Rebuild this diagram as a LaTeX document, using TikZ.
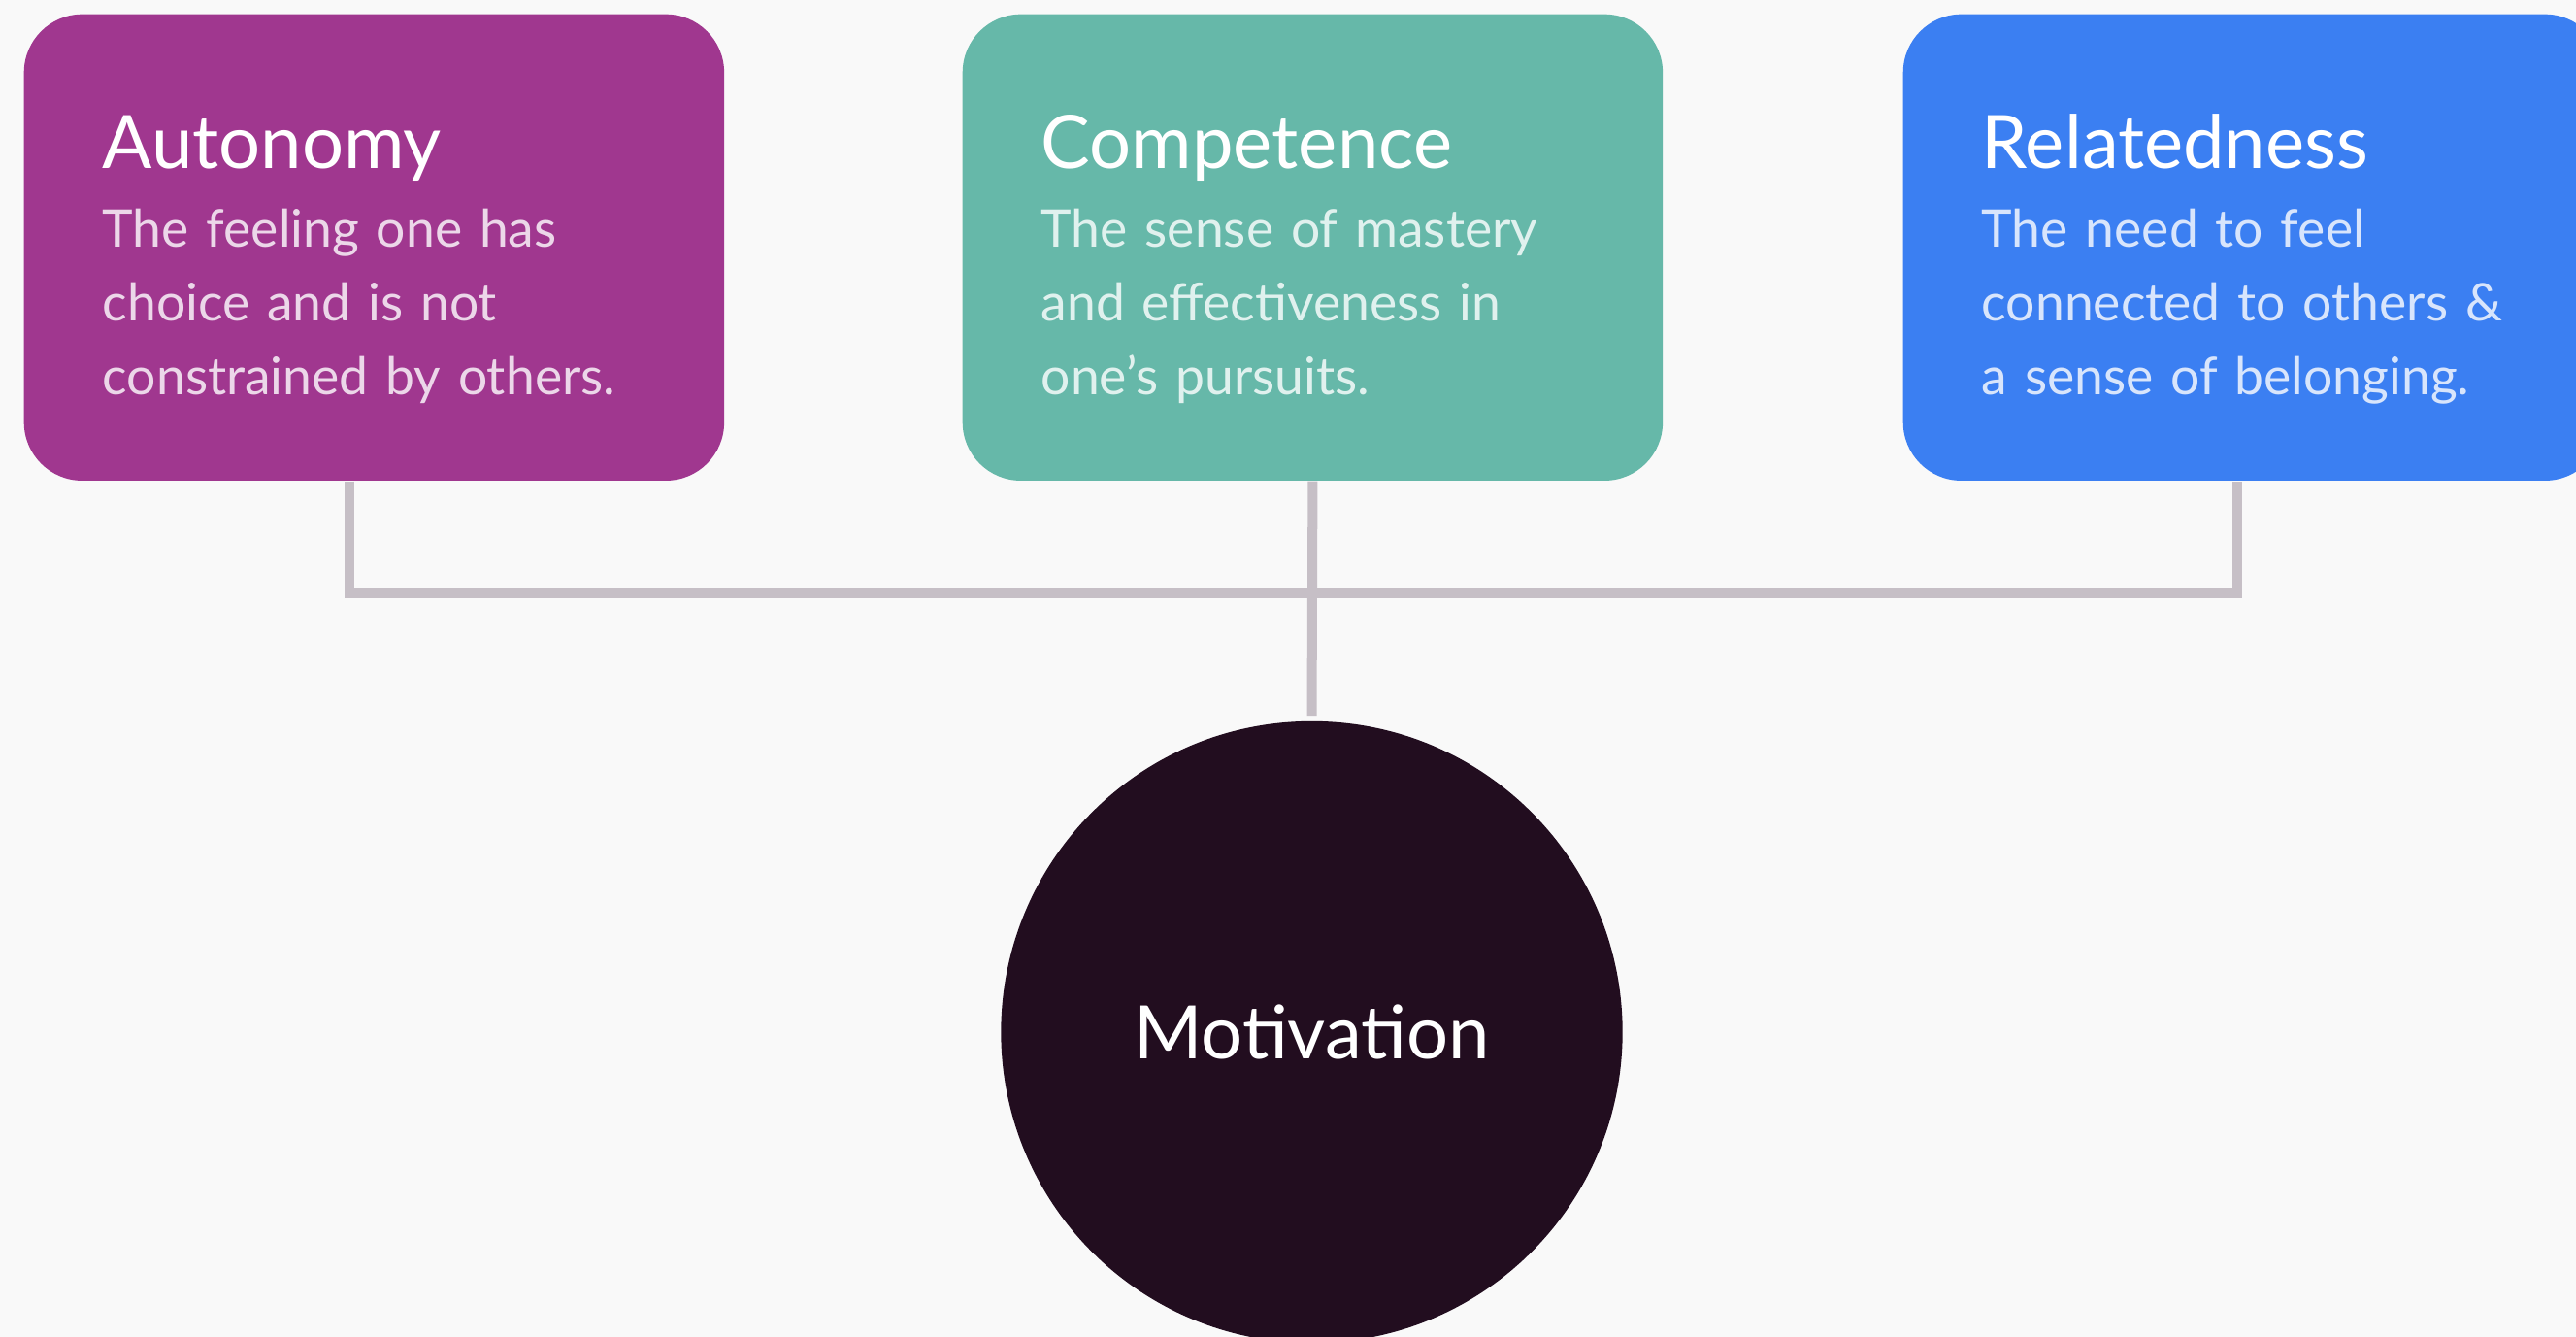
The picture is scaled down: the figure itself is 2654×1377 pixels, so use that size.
\documentclass[tikz,border=0pt]{standalone}
\usepackage{fontspec}
\usepackage{xcolor}
\usepackage{tikz}
\setmainfont{Lato}
\definecolor{pagegray}{RGB}{249, 249, 249}
\definecolor{autonomypurple}{RGB}{160, 55, 143}
\definecolor{competenceteal}{RGB}{102, 184, 169}
\definecolor{relatednessblue}{RGB}{59, 127, 242}
\definecolor{motivationdark}{RGB}{34, 13, 31}
\definecolor{linkgray}{RGB}{198, 191, 198}
\usetikzlibrary{positioning, calc}

\begin{document}
\begin{tikzpicture}[
    x=0.01cm, y=-0.01cm,
    card/.style={rectangle, rounded corners=0.6cm, minimum width=7.21cm, minimum height=4.8cm,
                 anchor=north west, inner sep=0pt},
    cardtitle/.style={anchor=base west, inner sep=0pt, text=white,
                 font=\fontsize{21.6}{26}\selectfont},
    cardtext/.style={anchor=base west, inner sep=0pt, align=left, text width=6cm,
                 font=\fontsize{15.2}{21.6}\selectfont},
    link/.style={draw=linkgray, line width=0.1cm}
]
    % Page
    \useasboundingbox (0,0) rectangle (2654,1377);
    \clip (0,0) rectangle (2654,1377);
    \fill[pagegray] (0,0) rectangle (2654,1377);

    % Cards
    \node[card, fill=autonomypurple] (autonomy) at (24,14) {};
    \node[card, fill=competenceteal] (competence) at (991,14) {};
    \node[card, fill=relatednessblue] (relatedness) at (1960,14) {};

    % Card texts
    \node[cardtitle] (autonomytitle) at ([shift={(0.81cm,-1.59cm)}]autonomy.north west) {Autonomy};
    \node[cardtext, text=autonomypurple!20] (autonomytext) at ([shift={(0.81cm,-2.40cm)}]autonomy.north west)
        {The feeling one has\\choice and is not\\constrained by others.};
    \node[cardtitle] (competencetitle) at ([shift={(0.81cm,-1.59cm)}]competence.north west) {Competence};
    \node[cardtext, text=competenceteal!20] (competencetext) at ([shift={(0.81cm,-2.40cm)}]competence.north west)
        {The sense of mastery\\and effectiveness in\\one’s pursuits.};
    \node[cardtitle] (relatednesstitle) at ([shift={(0.81cm,-1.59cm)}]relatedness.north west) {Relatedness};
    \node[cardtext, text=relatednessblue!20] (relatednesstext) at ([shift={(0.81cm,-2.40cm)}]relatedness.north west)
        {The need to feel\\connected to others \&\\a sense of belonging.};

    % Motivation
    \node[circle, fill=motivationdark, minimum size=6.4cm, inner sep=0pt, text=white,
          font=\fontsize{21.6}{26}\selectfont] (motivation) at (1351.5,1063) {\raisebox{-0.06cm}{Motivation}};

    % Connectors
    \coordinate (hub) at (1351.5,611);
    \draw[link] ([xshift=-0.25cm]autonomy.south) |- (hub) -| ([xshift=-0.16cm]relatedness.south);
    \draw[link, shorten >=0.05cm] (competence.south) -- (motivation.north);
\end{tikzpicture}
\end{document}
